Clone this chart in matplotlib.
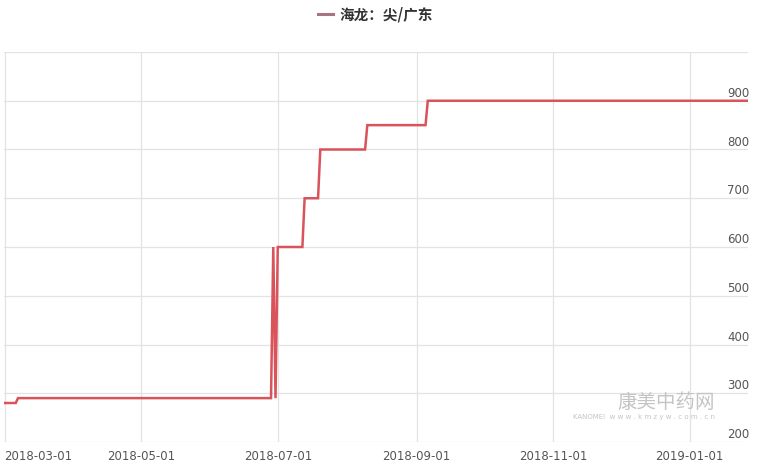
import matplotlib
matplotlib.use('Agg')
import matplotlib.pyplot as plt
import matplotlib.transforms as mtransforms
import pandas as pd

plt.rcParams['font.family'] = ['Noto Sans CJK SC', 'DejaVu Sans']

# price series
dates = ['2018-03-01', '2018-03-06', '2018-03-07', '2018-06-28', '2018-06-29',
         '2018-06-30', '2018-07-01', '2018-07-12', '2018-07-13', '2018-07-19',
         '2018-07-20', '2018-08-09', '2018-08-10', '2018-09-05', '2018-09-06',
         '2019-01-27']
prices = [280, 280, 290, 290, 600, 290, 600, 600, 700, 700,
          800, 800, 850, 850, 900, 900]
series_name = '海龙：尖/广东'

xtick_dates = ['2018-03-01', '2018-05-01', '2018-07-01', '2018-09-01',
               '2018-11-01', '2019-01-01']
yticks = [200, 300, 400, 500, 600, 700, 800, 900, 1000]

x = pd.to_datetime(dates)
xt = pd.to_datetime(xtick_dates)

fig = plt.figure(figsize=(7.61, 4.68), dpi=100)
ax = fig.add_axes([4 / 761, 26 / 468, 744 / 761, 390 / 468])

line_color = '#d9545a'
grid_color = '#e3e3e3'

ax.plot(x, prices, color=line_color, lw=1.8, solid_joinstyle='miter')
ax.set_xlim(pd.Timestamp('2018-02-28 18:00'), pd.Timestamp('2019-01-27'))
ax.set_ylim(200, 1000)

for s in ax.spines.values():
    s.set_visible(False)
ax.set_yticks(yticks)
ax.set_xticks(xt)
ax.grid(True, color=grid_color, lw=0.9)
ax.tick_params(length=0)
ax.set_yticklabels([])
ax.set_xticklabels([d.strftime('%Y-%m-%d') for d in xt], color='#555555',
                   fontsize=8.5, family='DejaVu Sans')
ax.tick_params(axis='x', pad=6)
# first label sits inside the left edge
ax.get_xticklabels()[0].set_horizontalalignment('left')

trans = mtransforms.blended_transform_factory(ax.transAxes, ax.transData)
for v in yticks[:-1]:
    ax.text(1.002, v + 2, str(v), transform=trans, ha='right', va='bottom',
            fontsize=8.5, color='#555555', family='DejaVu Sans')

# watermark
fig.text(617 / 761, 1 - 402 / 468, '康美中药网', ha='left',
         va='center', fontsize=14, color='#c4c4c4')
fig.text(573 / 761, 1 - 417 / 468, 'KANOMEI  w w w . k m z y w . c o m . c n',
         ha='left', va='center', fontsize=5, color='#c4c4c4',
         family='DejaVu Sans')

# legend at top
fig.lines.append(plt.Line2D([318 / 761, 333 / 761], [1 - 14 / 468, 1 - 14 / 468],
                            transform=fig.transFigure, color='#a87482', lw=2.2))
fig.text(339 / 761, 1 - 14 / 468, series_name, ha='left', va='center',
         fontsize=10.5, color='#333333', fontweight='bold')

fig.savefig('out.png', dpi=100)
